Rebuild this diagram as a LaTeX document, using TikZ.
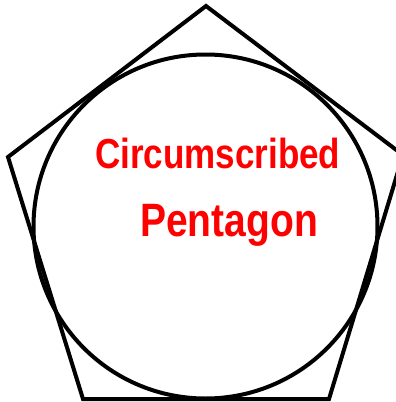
\documentclass[tikz,border=0pt]{standalone}
\usepackage{fontspec}
\setmainfont{Liberation Sans}
\usepackage{tikz}
\usetikzlibrary{positioning}

\begin{document}
\begin{tikzpicture}[
  x=1pt,y=-1pt,
  edge/.style={draw=black,line width=4pt,line join=miter},
  hand/.style={text=red,font=\bfseries,inner sep=0pt,anchor=base west,yscale=1.2}
]
  \useasboundingbox (0,0) rectangle (396,402);
  \clip (0,0) rectangle (396,402);
  % pentagon corners
  \coordinate (top)   at (206,6);
  \coordinate (left)  at (8,157);
  \coordinate (right) at (403,155);
  \coordinate (botl)  at (83,399);
  \coordinate (botr)  at (329,399);
  \coordinate (mid)   at (205.5,226.5);
  \draw[edge] (top) -- (right) -- (botr) -- (botl) -- (left) -- cycle;
  \draw[edge] (mid) circle[radius=172];
  % label
  \node[hand,font=\fontsize{35}{40}\selectfont\bfseries] (circ) at (95,168)  {Circumscribed};
  \node[hand,font=\fontsize{39}{44}\selectfont\bfseries] (pent) at (140,236) {Pentagon};
\end{tikzpicture}
\end{document}
